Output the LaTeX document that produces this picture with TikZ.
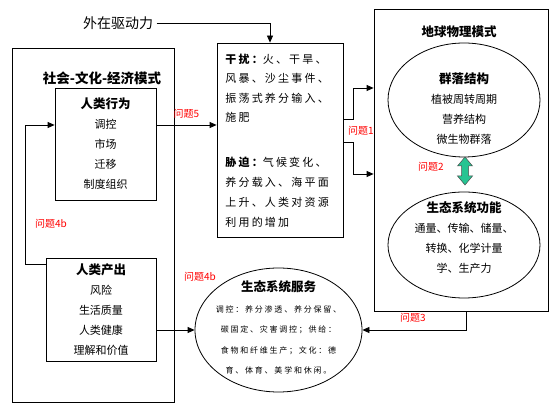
\documentclass[tikz,border=0pt]{standalone}
\usepackage{fontspec}
\setmainfont{Noto Sans CJK SC}
\usepackage{tikz}
\usetikzlibrary{arrows.meta, positioning, calc, shapes.geometric}
\definecolor{qgreen}{RGB}{38,196,146}

\begin{document}
\begin{tikzpicture}[x=1pt,y=1pt,>={Triangle[length=7pt,width=6pt]},line width=0.8pt,
  box/.style={draw,rectangle,inner sep=0pt},
  oval/.style={draw,ellipse,inner sep=0pt},
  txt/.style={align=center,font=\fontsize{11}{20}\selectfont},
  head/.style={font=\fontsize{12.5}{15}\selectfont\bfseries},
  para/.style={anchor=west,align=left,inner sep=0pt,
    font=\fontsize{11}{19.5}\selectfont\addfontfeature{LetterSpace=20}},
  q/.style={red,font=\fontsize{10}{12}\selectfont}]
  \useasboundingbox (0,0) rectangle (557,414);
  \node[font=\fontsize{14}{16}\selectfont] (extdrv) at (118,391) {外在驱动力};
  \node[box,minimum width=162pt,minimum height=354pt] (social) at (93,189) {};
  \node[font=\fontsize{13.5}{16}\selectfont\bfseries] (socialtitle) at (102,336) {社会-文化-经济模式};
  \node[box,txt,minimum width=101pt,minimum height=112pt] (behav) at (105.5,270)
    {{\bfseries\fontsize{12.5}{20}\selectfont 人类行为}\\调控\\市场\\迁移\\制度组织};
  \node[box,txt,minimum width=110pt,minimum height=103pt] (output) at (101,104.5)
    {{\bfseries\fontsize{12.5}{20}\selectfont 人类产出}\\风险\\生活质量\\人类健康\\理解和价值};
  \node[box,minimum width=126pt,minimum height=194pt] (dist) at (280,274) {};
  \node[para] (disttxt) at (225,325.5)
    {{\bfseries 干扰：}火、干旱、\\风暴、沙尘事件、\\振荡式养分输入、\\施肥};
  \node[para,font=\fontsize{11}{20}\selectfont\addfontfeature{LetterSpace=20}] (stresstxt) at (225,221.5)
    {{\bfseries 胁迫：}气候变化、\\养分载入、海平面\\上升、人类对资源\\利用的增加};
  \node[box,minimum width=174pt,minimum height=302pt] (geo) at (461,254) {};
  \node[head] (geotitle) at (459,382) {地球物理模式};
  \node[oval,minimum width=152pt,minimum height=114pt] (comm) at (464,314) {};
  \node[txt] (commtxt) at (464,305)
    {{\bfseries\fontsize{12.5}{20}\selectfont 群落结构}\\植被周转周期\\营养结构\\微生物群落};
  \node[oval,minimum width=152pt,minimum height=106pt] (func) at (464,169) {};
  \node[txt] (functxt) at (464,176)
    {{\bfseries\fontsize{12.5}{20}\selectfont 生态系统功能}\\通量、传输、储量、\\转换、化学计量\\学、生产力};
  \node[oval,minimum width=167pt,minimum height=124pt] (serv) at (278.5,84) {};
  \node[align=center,font=\fontsize{8}{20.5}\selectfont\addfontfeature{LetterSpace=22}] (servtxt) at (278.5,86.5)
    {{\bfseries\fontsize{12.5}{20}\selectfont\addfontfeature{LetterSpace=0}生态系统服务}\\调控：养分渗透、养分保留、\\碳固定、灾害调控；供给：\\食物和纤维生产；文化：德\\育、体育、美学和休闲。};
  \draw[->] (extdrv.east) -| ([xshift=-10pt]dist.north);
  \draw[->] ([yshift=19pt]behav.east) -- ([yshift=19pt]behav.east -| dist.west)
    node[q,midway,above=3pt] (q5) {问题5};
  \draw[->] ([yshift=21pt]dist.east) -- ++(10,0) |- ([yshift=72pt]geo.west);
  \draw[->] ([yshift=-2pt]dist.east) -- ++(10,0) |- ([yshift=-14pt]geo.west);
  \node[q] (q1) at (361,283) {问题1};
  \filldraw[fill=qgreen,draw=black!70,line width=0.5pt] (465,257) -- (472.5,248) -- (468.5,248)
    -- (468.5,238) -- (472.5,238) -- (465,229) -- (457.5,238) -- (461.5,238)
    -- (461.5,248) -- (457.5,248) -- cycle;
  \node[q] (q2) at (431,247) {问题2};
  \draw[->] ([xshift=5pt]geo.south) |- (serv.east);
  \node[q] (q3) at (413,96) {问题3};
  \draw[->] ([yshift=-20.5pt]output.east) -- (serv.west);
  \node[q] (q4r) at (200,137) {问题4b};
  \draw[->] ([yshift=45.5pt]output.west) -- ++(-20,0) |- ([yshift=19pt]behav.west);
  \node[q] (q4l) at (51,190) {问题4b};
\end{tikzpicture}
\end{document}
